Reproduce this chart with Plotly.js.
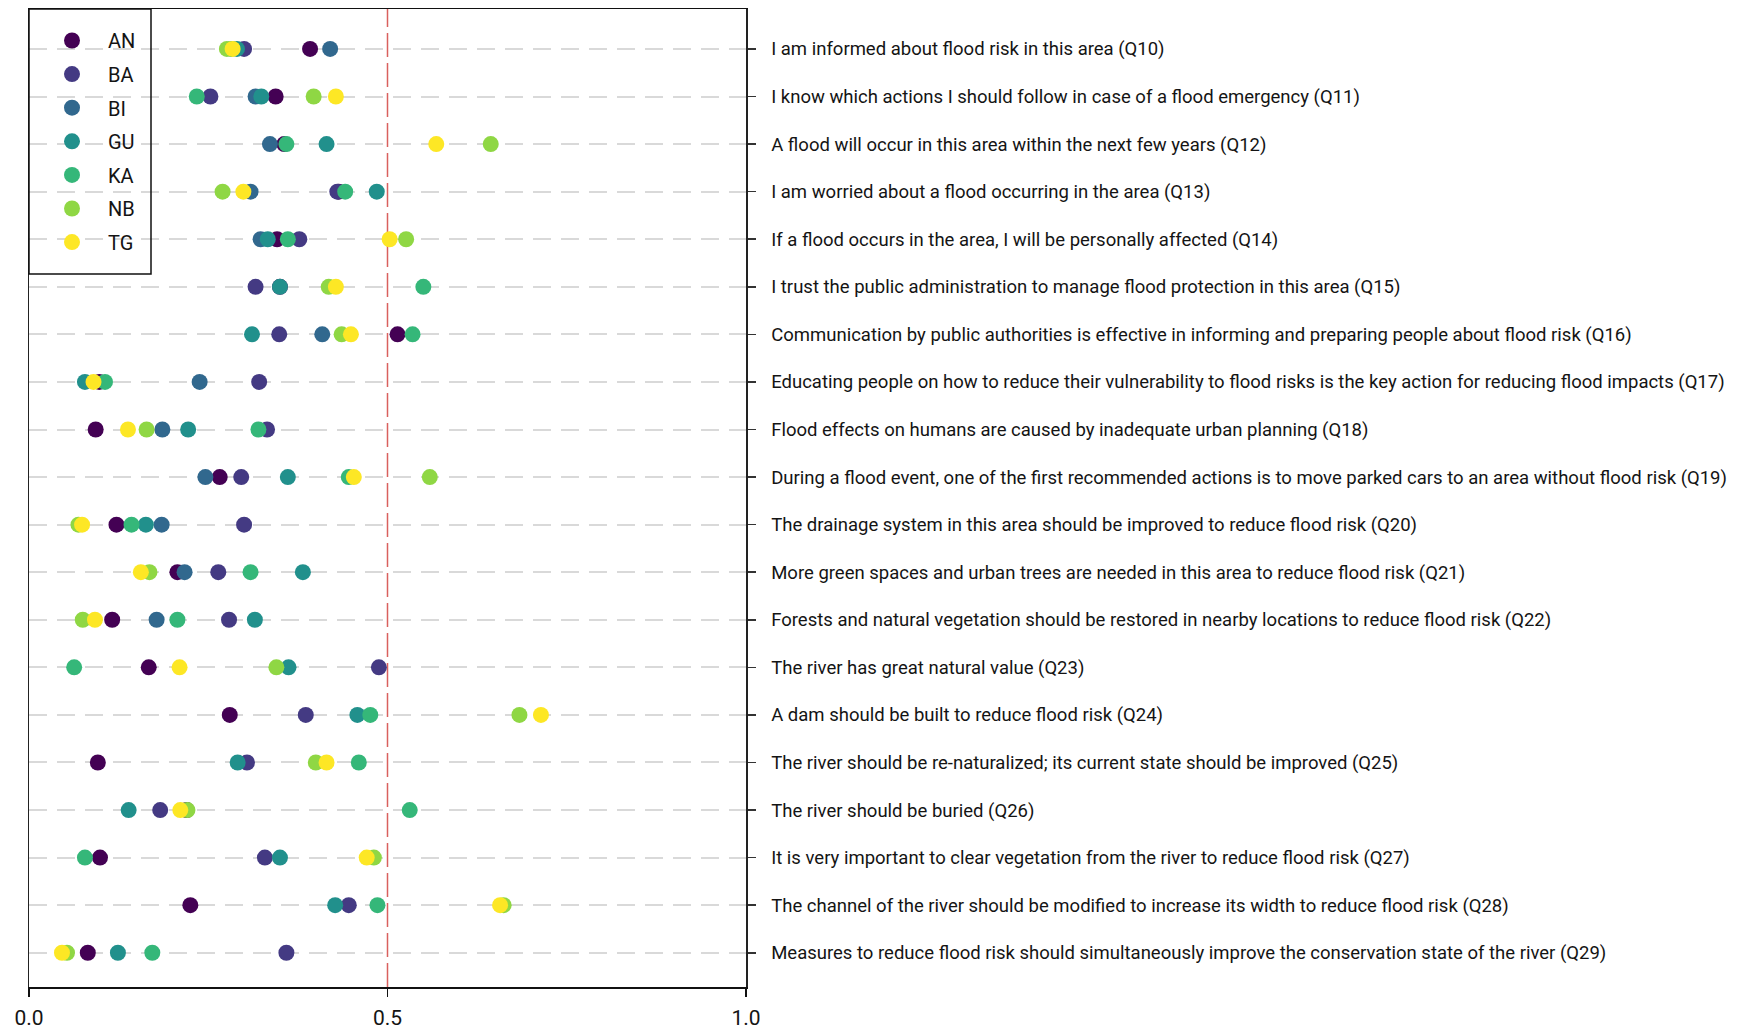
<!DOCTYPE html>
<html>
<head>
<meta charset="utf-8">
<script src="https://cdn.plot.ly/plotly-3.0.1.min.js"></script>
<style>
  html, body { margin: 0; padding: 0; background: #ffffff; }
  #chart { width: 1739px; height: 1030px; }
</style>
</head>
<body>
<div id="chart"></div>
<script>
// Survey statements (one row each, top to bottom)
const questions = [
  "I am informed about flood risk in this area (Q10)",
  "I know which actions I should follow in case of a flood emergency (Q11)",
  "A flood will occur in this area within the next few years (Q12)",
  "I am worried about a flood occurring in the area (Q13)",
  "If a flood occurs in the area, I will be personally affected (Q14)",
  "I trust the public administration to manage flood protection in this area (Q15)",
  "Communication by public authorities is effective in informing and preparing people about flood risk (Q16)",
  "Educating people on how to reduce their vulnerability to flood risks is the key action for reducing flood impacts (Q17)",
  "Flood effects on humans are caused by inadequate urban planning (Q18)",
  "During a flood event, one of the first recommended actions is to move parked cars to an area without flood risk (Q19)",
  "The drainage system in this area should be improved to reduce flood risk (Q20)",
  "More green spaces and urban trees are needed in this area to reduce flood risk (Q21)",
  "Forests and natural vegetation should be restored in nearby locations to reduce flood risk (Q22)",
  "The river has great natural value (Q23)",
  "A dam should be built to reduce flood risk (Q24)",
  "The river should be re-naturalized; its current state should be improved (Q25)",
  "The river should be buried (Q26)",
  "It is very important to clear vegetation from the river to reduce flood risk (Q27)",
  "The channel of the river should be modified to increase its width to reduce flood risk (Q28)",
  "Measures to reduce flood risk should simultaneously improve the conservation state of the river (Q29)"
];

// Site codes
const sites = ["AN", "BA", "BI", "GU", "KA", "NB", "TG"];

// Score per statement for each site (Q10 ... Q29)
const AN = [0.392, 0.344, 0.356, 0.432, 0.346, 0.350, 0.514, 0.098, 0.093, 0.266,
            0.122, 0.207, 0.116, 0.167, 0.280, 0.096, 0.220, 0.099, 0.225, 0.082];
const BA = [0.300, 0.253, null,  0.430, 0.377, 0.316, 0.349, 0.321, 0.332, 0.296,
            0.300, 0.264, 0.279, 0.488, 0.386, 0.304, 0.183, 0.329, 0.446, 0.359];
const BI = [0.420, 0.316, 0.336, 0.309, 0.323, null,  0.409, 0.238, 0.186, 0.246,
            0.185, 0.217, 0.178, null,  null,  null,  null,  null,  null,  null];
const GU = [0.290, 0.324, 0.415, 0.485, 0.333, 0.350, 0.311, 0.078, 0.222, 0.361,
            0.163, 0.382, 0.315, 0.362, 0.458, 0.291, 0.139, 0.350, 0.427, 0.124];
const KA = [0.282, 0.234, 0.359, 0.441, 0.361, 0.550, 0.535, 0.106, 0.320, 0.446,
            0.143, 0.309, 0.207, 0.063, 0.476, 0.460, 0.531, 0.078, 0.486, 0.172];
const NB = [0.276, 0.397, 0.644, 0.270, 0.526, 0.418, 0.436, null,  0.164, 0.559,
            0.069, 0.168, 0.075, 0.345, 0.684, 0.400, 0.221, 0.481, 0.662, 0.053];
const TG = [0.284, 0.428, 0.568, 0.299, 0.503, 0.428, 0.449, 0.090, 0.138, 0.453,
            0.074, 0.156, 0.092, 0.210, 0.714, 0.415, 0.211, 0.471, 0.657, 0.046];

const seriesValues = [AN, BA, BI, GU, KA, NB, TG];

// Axis ticks and the neutral reference line
const xTickVals = [0, 0.5, 1];
const xTickText = ["0.0", "0.5", "1.0"];
const midpoint = 0.5;

// viridis palette, 7 steps
const palette = ["#440154", "#443A83", "#31688E", "#21908C", "#35B779", "#8FD744", "#FDE725"];

const FONT = 'Roboto, "Liberation Sans", "DejaVu Sans", sans-serif';

const traces = sites.map((name, i) => ({
  type: "scatter",
  mode: "markers",
  name: name,
  legendgroup: name,
  x: seriesValues[i],
  y: questions,
  marker: { color: palette[i], size: 16, line: { width: 0 } },
  cliponaxis: false,
  hoverinfo: "x+name"
}));

const n = questions.length;
const plotW = 1739 - 29 - 993;
const plotH = 1030 - 9 - 43;

const layout = {
  width: 1739,
  height: 1030,
  paper_bgcolor: "#ffffff",
  plot_bgcolor: "#ffffff",
  margin: { l: 29, r: 993, t: 9, b: 43, pad: 0, autoexpand: false },
  font: { family: FONT, size: 18.5, color: "#141414" },
  showlegend: true,
  legend: {
    x: 0, xanchor: "left", xref: "paper",
    y: 1 - 12 / plotH, yanchor: "top", yref: "paper",
    bgcolor: "rgba(0,0,0,0)",
    borderwidth: 0,
    font: { family: FONT, size: 20, color: "#141414" },
    tracegroupgap: 4.6,
    indentation: 7,
    itemwidth: 62
  },
  xaxis: {
    range: [0, 1],
    tickmode: "array",
    tickvals: xTickVals,
    ticktext: xTickText,
    ticks: "outside",
    ticklen: 8,
    tickwidth: 1.5,
    tickcolor: "#111111",
    ticklabelstandoff: 3,
    showgrid: false,
    zeroline: false,
    showline: true,
    linecolor: "#111111",
    linewidth: 1.5,
    mirror: true,
    automargin: false,
    tickfont: { family: FONT, size: 21, color: "#141414" },
    fixedrange: true
  },
  yaxis: {
    type: "category",
    categoryorder: "array",
    categoryarray: questions,
    range: [n - 1 + 0.72, -0.84],
    side: "right",
    ticks: "outside",
    ticklen: 8,
    tickwidth: 1.5,
    tickcolor: "#333333",
    ticklabelstandoff: 12,
    showline: true,
    linecolor: "#222222",
    linewidth: 1.5,
    mirror: true,
    showgrid: true,
    gridcolor: "#d9d9d9",
    gridwidth: 2,
    griddash: "18px,10px",
    zeroline: false,
    automargin: false,
    tickfont: { family: FONT, size: 18.5, color: "#141414" },
    fixedrange: true
  },
  shapes: [
    {
      type: "line",
      xref: "x", yref: "paper",
      x0: midpoint, x1: midpoint, y0: 0, y1: 1,
      line: { color: "#d9605e", width: 1.5, dash: "24px,6px" },
      layer: "below"
    },
    {
      // frame around the legend
      type: "rect",
      xref: "paper", yref: "paper",
      x0: 0, x1: 122 / plotW,
      y0: 1 - 265 / plotH, y1: 1,
      line: { color: "#111111", width: 1.5 },
      fillcolor: "rgba(0,0,0,0)",
      layer: "above"
    }
  ]
};

Plotly.newPlot("chart", traces, layout, { displayModeBar: false, staticPlot: true });
</script>
</body>
</html>
